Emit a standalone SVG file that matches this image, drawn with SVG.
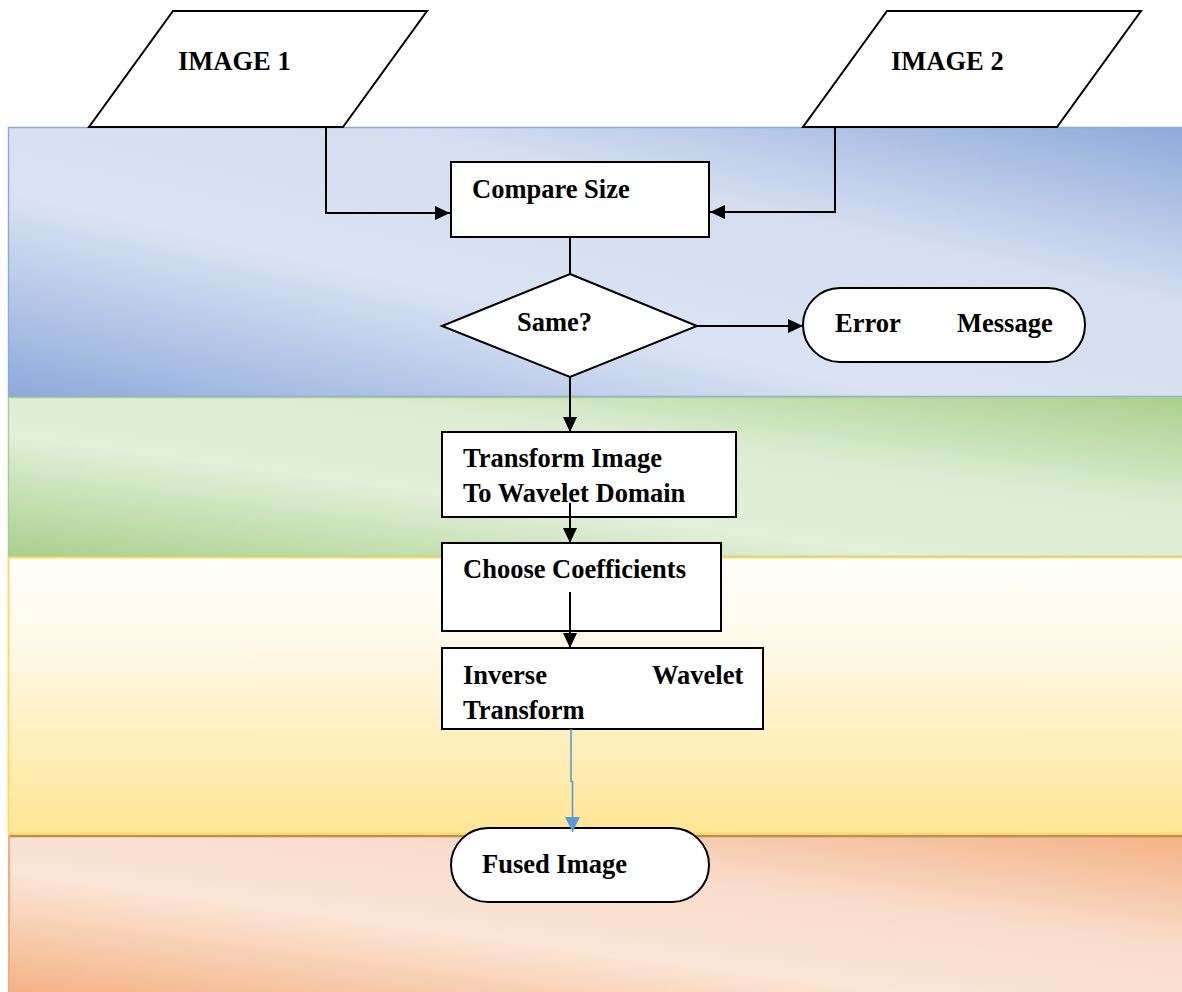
<svg xmlns="http://www.w3.org/2000/svg" width="1182" height="992" viewBox="0 0 1182 992">
  <defs>
    <!-- diagonal two-tone band fills: dark at top-right and bottom-left -->
    <linearGradient id="gBlue" x1="1" y1="0" x2="0" y2="1">
      <stop offset="0" stop-color="#8eaadb"/>
      <stop offset="0.33" stop-color="#d5def0"/>
      <stop offset="0.62" stop-color="#dae3f3"/>
      <stop offset="1" stop-color="#8eaadb"/>
    </linearGradient>
    <linearGradient id="gGreen" x1="1" y1="0" x2="0" y2="1">
      <stop offset="0" stop-color="#a8d08d"/>
      <stop offset="0.35" stop-color="#dcecd2"/>
      <stop offset="0.62" stop-color="#e2efd9"/>
      <stop offset="1" stop-color="#a8d08d"/>
    </linearGradient>
    <linearGradient id="gYellow" x1="0" y1="0" x2="0" y2="1">
      <stop offset="0" stop-color="#fffefb"/>
      <stop offset="0.3" stop-color="#fff9ea"/>
      <stop offset="1" stop-color="#ffe594"/>
    </linearGradient>
    <linearGradient id="gOrange" x1="1" y1="0" x2="0" y2="1">
      <stop offset="0" stop-color="#f4b183"/>
      <stop offset="0.35" stop-color="#f9dccb"/>
      <stop offset="0.62" stop-color="#fbe5d6"/>
      <stop offset="1" stop-color="#f4b183"/>
    </linearGradient>
    <marker id="arrow" markerUnits="userSpaceOnUse" markerWidth="16" markerHeight="16" viewBox="0 0 16 16" refX="15" refY="8" orient="auto">
      <path d="M0 1 L15 8 L0 15 Z" fill="#000"/>
    </marker>
    <marker id="arrowBlue" markerUnits="userSpaceOnUse" markerWidth="16" markerHeight="16" viewBox="0 0 16 16" refX="15" refY="8" orient="auto">
      <path d="M0 0.5 L15 8 L0 15.5 Z" fill="#5b9bd5"/>
    </marker>
  </defs>
  <style>
    .shape { fill: #ffffff; stroke: #000000; stroke-width: 2; }
    .label { font-family: "Liberation Serif", "Times New Roman", serif; font-weight: bold; font-size: 26.5px; fill: #000000; }
    .conn { fill: none; stroke: #000000; stroke-width: 2; }
    .connBlue { fill: none; stroke: #5b9bd5; stroke-width: 1.6; }
  </style>

  <rect width="1182" height="992" fill="#ffffff"/>

  <!-- background bands -->
  <g id="bands">
    <rect x="8.5" y="127.5" width="1180" height="269" fill="url(#gBlue)" stroke="#8eaadb" stroke-width="1.5"/>
    <rect x="8.5" y="397.5" width="1180" height="159" fill="url(#gGreen)" stroke="#a8d08d" stroke-width="1.5"/>
    <rect x="8.5" y="557.5" width="1180" height="276" fill="url(#gYellow)" stroke="#ffd966" stroke-width="2"/>
    <rect x="8.5" y="835" width="1180" height="160" fill="url(#gOrange)"/>
    <line x1="9" y1="836" x2="1182" y2="836" stroke="#b8914f" stroke-width="2.5"/>
    <line x1="9" y1="835" x2="9" y2="992" stroke="#f2ad80" stroke-width="2"/>
  </g>

  <g id="image1">
    <polygon class="shape" points="173,11 427,11 343,127 89,127"/>
    <text class="label" x="178" y="70">IMAGE 1</text>
  </g>

  <g id="image2">
    <polygon class="shape" points="887,11 1141,11 1057,127 803,127"/>
    <text class="label" x="891" y="70">IMAGE 2</text>
  </g>

  <g id="compare-size">
    <rect class="shape" x="451" y="162" width="258" height="75"/>
    <text class="label" x="472" y="198">Compare Size</text>
  </g>

  <g id="same">
    <polygon class="shape" points="570,274 697,326 570,377 442,326"/>
    <text class="label" x="517" y="331">Same?</text>
  </g>

  <g id="error-message">
    <rect class="shape" x="803" y="288" width="282" height="74" rx="37" ry="37"/>
    <text class="label" x="835" y="332">Error</text>
    <text class="label" x="957" y="332">Message</text>
  </g>

  <g id="transform">
    <rect class="shape" x="442" y="432" width="294" height="85"/>
    <text class="label" x="463" y="467">Transform Image</text>
    <text class="label" x="463" y="502">To Wavelet Domain</text>
  </g>

  <g id="choose">
    <rect class="shape" x="442" y="543" width="279" height="88"/>
    <text class="label" x="463" y="578">Choose Coefficients</text>
  </g>

  <g id="inverse">
    <rect class="shape" x="442" y="648" width="321" height="81"/>
    <text class="label" x="463" y="684">Inverse</text>
    <text class="label" x="652" y="684">Wavelet</text>
    <text class="label" x="463" y="719">Transform</text>
  </g>

  <g id="fused-image">
    <rect class="shape" x="451" y="828" width="258" height="74" rx="37" ry="37"/>
    <text class="label" x="482" y="873">Fused Image</text>
  </g>

  <!-- connectors -->
  <g id="connectors">
    <path class="conn" d="M326 127 V213 H450" marker-end="url(#arrow)"/>
    <path class="conn" d="M835 127 V212 H710" marker-end="url(#arrow)"/>
    <path class="conn" d="M570 238 V274"/>
    <path class="conn" d="M697 326 H803" marker-end="url(#arrow)"/>
    <path class="conn" d="M570 377 V432" marker-end="url(#arrow)"/>
    <path class="conn" d="M570 503 V543" marker-end="url(#arrow)"/>
    <path class="conn" d="M570 592 V648" marker-end="url(#arrow)"/>
    <path class="connBlue" d="M571 729 V781 L572.5 782 V832" marker-end="url(#arrowBlue)"/>
  </g>
</svg>
